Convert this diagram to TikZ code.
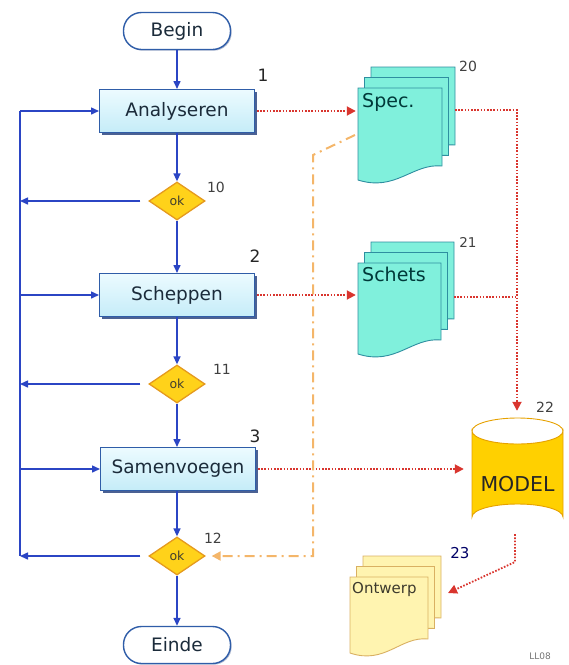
\documentclass[tikz,border=0pt]{standalone}
\usepackage{fontspec}
\setmainfont{DejaVu Sans}
\newfontfamily\vfont{DejaVu Sans}
\usetikzlibrary{shapes.geometric,arrows.meta,shadows}
\definecolor{blueline}{HTML}{2B45C4}
\definecolor{boxdraw}{HTML}{2F5DA8}
\definecolor{boxtop}{HTML}{ECFBFF}
\definecolor{boxbot}{HTML}{C5ECF8}
\definecolor{shadowc}{HTML}{1E3A78}
\definecolor{diafill}{HTML}{FFD21A}
\definecolor{diadraw}{HTML}{E59A1E}
\definecolor{docfill}{HTML}{80F0DC}
\definecolor{docdraw}{HTML}{2E8EA0}
\definecolor{ontfill}{HTML}{FFF4B0}
\definecolor{ontdraw}{HTML}{D9B062}
\definecolor{cylfill}{HTML}{FFD000}
\definecolor{cyldraw}{HTML}{E6A100}
\definecolor{reddot}{HTML}{D9352E}
\definecolor{orangel}{HTML}{F4B66A}
\definecolor{txt}{HTML}{1B2B3A}
\newcommand\docsheet[5]{%
  \filldraw[#5] (#1,#2) -- ++(#3,0) -- ++(0,#4)
    .. controls +(-0.35*#3,-3) and +(0.45*#3,12) .. (#1,#2+#4+14) -- cycle;}
\newcommand\docstack[5]{%
  \docsheet{#1+13}{#2-21}{#3}{#4}{#5}
  \docsheet{#1+6.5}{#2-10.5}{#3}{#4}{#5}
  \docsheet{#1}{#2}{#3}{#4}{#5}}
\tikzset{
  x=1pt,y=-1pt,
  terminal/.style={draw=boxdraw,line width=1.4,fill=white,rounded corners=18,
    minimum width=107,minimum height=37,font=\fontsize{18.5}{20}\selectfont,text=txt,
    drop shadow={shadow xshift=1.2pt,shadow yshift=-1.2pt,fill=shadowc,opacity=0.35}},
  procbox/.style={draw=boxdraw,line width=1,top color=boxtop,bottom color=boxbot,
    minimum width=155,minimum height=43,inner xsep=3,font=\fontsize{18.5}{20}\selectfont,text=txt,
    drop shadow={shadow xshift=2.5pt,shadow yshift=-2.5pt,fill=shadowc,opacity=0.8}},
  okdia/.style={diamond,draw=diadraw,line width=1.3,fill=diafill,inner sep=0,
    minimum width=56,minimum height=38,font=\fontsize{12.5}{13}\selectfont,text=black!70!olive},
  flow/.style={draw=blueline,line width=1.5,-{Triangle[length=8,width=7]}},
  flowline/.style={draw=blueline,line width=1.5},
  rdot/.style={draw=reddot,line width=1.8,dash pattern=on 1.6pt off 1.6pt,
    -{Triangle[length=9,width=9]}},
  rdotline/.style={draw=reddot,line width=1.8,dash pattern=on 1.6pt off 1.6pt},
  odash/.style={draw=orangel,line width=2,dash pattern=on 10pt off 5pt on 2pt off 5pt,
    -{Triangle[length=9,width=9]}},
  num/.style={font=\fontsize{14}{15}\selectfont,text=black!75},
  bignum/.style={font=\fontsize{17}{18}\selectfont,text=black!85},
  ghost/.style={inner sep=0},
  docst/.style={fill=docfill,draw=docdraw,line width=0.9},
  ontst/.style={fill=ontfill,draw=ontdraw,line width=0.9},
  doctext/.style={font=\fontsize{19}{20}\selectfont,text=black!55!teal,inner sep=0,anchor=north west},
}
\begin{document}
\begin{tikzpicture}
\useasboundingbox (0,0) rectangle (569,665);
% flowchart nodes
\node[terminal] (begin) at (177,31) {Begin};
\node[procbox] (anal) at (177,111) {Analyseren};
\node[okdia] (d10) at (177,201) {ok};
\node[procbox] (schep) at (177,295) {Scheppen};
\node[okdia] (d11) at (177,384) {ok};
\node[procbox] (samen) at (178,469) {Samenvoegen};
\node[okdia] (d12) at (177,556) {ok};
\node[terminal] (einde) at (177,645) {Einde};
\node[bignum] (n1) at (263,75) {1};
\node[bignum] (n2) at (255,256) {2};
\node[bignum] (n3) at (255,436) {3};
\node[num] (n10) at (216,187) {10};
\node[num] (n11) at (222,369) {11};
\node[num] (n12) at (213,538) {12};
% documents
\docstack{358}{88}{84}{78}{docst}
\node[ghost,minimum width=84,minimum height=92] (spec) at (400,134) {};
\node[doctext] (spect) at (362,93) {Spec.};
\node[num] (n20) at (468,66) {20};
\docstack{358}{263}{83}{77}{docst}
\node[ghost,minimum width=83,minimum height=90] (schets) at (399.5,308) {};
\node[doctext] (schetst) at (362,267) {Schets};
\node[num,font=\fontsize{13.5}{14}\selectfont] (n21) at (468,242) {21};
\docstack{350}{577}{78}{62}{ontst}
\node[ghost,minimum width=78,minimum height=76] (ontw) at (389,615) {};
\node[doctext,font=\fontsize{15}{16}\selectfont,text=black!75!olive] (ontwt) at (352,582) {Ontwerp};
\node[num,font=\fontsize{15}{16}\selectfont,text=black!60!blue] (n23) at (460,553) {23};
% model cylinder
\node[ghost,minimum width=91,minimum height=112] (model) at (517.5,474) {};
\filldraw[fill=cylfill,draw=cyldraw,line width=0.9]
  (472,431) -- (472,517) arc[start angle=180,end angle=360,x radius=45.5,y radius=13]
  -- (563,431) arc[start angle=0,end angle=180,x radius=45.5,y radius=13] -- cycle;
\draw[draw=cyldraw,line width=0.9] (472,431) arc[start angle=180,end angle=360,x radius=45.5,y radius=13];
\node[font=\fontsize{20.5}{22}\selectfont,text=black!85] (modelt) at (517.5,484) {MODEL};
\node[num] (n22) at (545,407) {22};
\node[font=\fontsize{9}{10}\selectfont,text=black!55] (ll) at (540,656) {LL08};
% main flow
\draw[flow] (begin) -- (anal);
\draw[flow] (anal) -- (d10);
\draw[flow] (d10) -- (schep);
\draw[flow] (schep) -- (d11);
\draw[flow] (d11) -- (d11 |- samen.north);
\draw[flow] (d12 |- samen.south) -- (d12);
\draw[flow] (d12) -- (einde);
\coordinate (L) at (20,0);
\draw[flowline] (anal.west -| L) -- (d12.west -| L);
\draw[flow] (anal.west -| L) -- (anal.west);
\draw[flow] (schep.west -| L) -- (schep.west);
\draw[flow] (samen.west -| L) -- (samen.west);
\draw[flow,shorten <=8] (d10.west) -- (d10.west -| L);
\draw[flow,shorten <=8] (d11.west) -- (d11.west -| L);
\draw[flow,shorten <=8] (d12.west) -- (d12.west -| L);
% red dotted
\draw[rdot,shorten <=2,shorten >=2] (anal.east) -- (anal.east -| spec.west);
\draw[rdot,shorten <=2,shorten >=2] (schep.east) -- (schep.east -| schets.west);
\draw[rdot,shorten <=2,shorten >=8] (samen.east) -- (samen.east -| model.west);
\coordinate (specR) at (455,110);
\coordinate (bend) at (517,110);
\coordinate (schR) at (454,297);
\draw[rdot,shorten >=7] (specR) -- (bend) -- (bend |- model.north);
\draw[rdotline] (schR) -- (schR -| bend);
\coordinate (mb) at (515,562);
\coordinate (ontR) at (448,593);
\draw[rdot,shorten <=4] (model.south -| mb) -- (mb) -- (ontR);
% orange dash-dot
\coordinate (o1) at (355,135);
\coordinate (o2) at (313,155);
\draw[odash,shorten >=6] (o1) -- (o2) -- (o2 |- d12.east) -- (d12.east);
\end{tikzpicture}
\end{document}
